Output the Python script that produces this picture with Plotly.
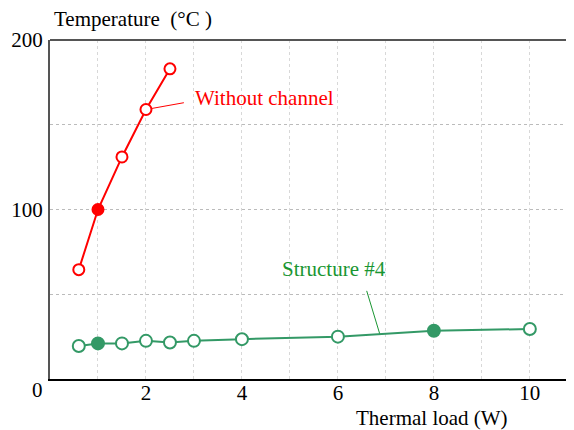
import plotly.graph_objects as go

# Data
red_x = [0.6, 1, 1.5, 2, 2.5]
red_y = [64.5, 100, 131, 159, 183]
red_filled = [False, True, False, False, False]

green_x = [0.6, 1, 1.5, 2, 2.5, 3, 4, 6, 8, 10]
green_y = [19.5, 21, 21, 22.5, 21.5, 22.5, 23.5, 25, 28.5, 29.5]
green_filled = [False, True, False, False, False, False, False, False, True, False]

x_ticks = [2, 4, 6, 8, 10]
y_ticks = [100, 200]

RED = "#ff0000"
GREEN = "#339966"
GREEN_TXT = "#1a9632"
FONT = "Liberation Serif, Times New Roman, serif"

fig = go.Figure()

fig.add_trace(go.Scatter(
    x=red_x, y=red_y, mode="lines+markers",
    line=dict(color=RED, width=2),
    marker=dict(size=11, symbol="circle",
                color=[RED if f else "white" for f in red_filled],
                line=dict(color=RED, width=2)),
    showlegend=False, cliponaxis=False,
))
fig.add_trace(go.Scatter(
    x=green_x, y=green_y, mode="lines+markers",
    line=dict(color=GREEN, width=2),
    marker=dict(size=12, symbol="circle",
                color=[GREEN if f else "white" for f in green_filled],
                line=dict(color=GREEN, width=2)),
    showlegend=False, cliponaxis=False,
))

# leader lines
fig.add_shape(type="line", x0=red_x[3], y0=red_y[3], x1=2.79, y1=163,
              line=dict(color=RED, width=1), layer="below")
fig.add_shape(type="line", x0=6.6, y0=52, x1=6.875, y1=26.3,
              line=dict(color=GREEN_TXT, width=1), layer="below")
# top border
fig.add_shape(type="line", xref="paper", yref="paper", x0=0, x1=1, y0=1, y1=1,
              line=dict(color="#555555", width=2))

fig.add_annotation(x=2.97, y=166, text="Without channel", showarrow=False,
                   xanchor="left", yanchor="middle",
                   font=dict(family=FONT, size=21, color=RED))
fig.add_annotation(x=4.79, y=65, text="Structure #4", showarrow=False,
                   xanchor="left", yanchor="middle",
                   font=dict(family=FONT, size=21, color=GREEN_TXT))

# axis titles and origin label
fig.add_annotation(xref="paper", yref="paper", x=2/524, y=1, yshift=21,
                   text="Temperature  (°C )", showarrow=False, xanchor="left",
                   yanchor="middle", font=dict(family=FONT, size=21, color="black"))
fig.add_annotation(xref="paper", yref="paper", x=(432-50)/524, y=0, yshift=-39,
                   text="Thermal load (W)", showarrow=False, xanchor="center",
                   yanchor="middle", font=dict(family=FONT, size=21, color="black"))
fig.add_annotation(xref="paper", yref="paper", x=0, y=0, xshift=-13, yshift=-11,
                   text="0", showarrow=False, xanchor="center", yanchor="middle",
                   font=dict(family=FONT, size=21, color="black"))

# page body has an 8px margin: size the figure so the visible area matches
fig.update_layout(
    width=566, height=422,
    margin=dict(l=42, r=0, t=32, b=51, autoexpand=False),
    paper_bgcolor="white", plot_bgcolor="white",
    font=dict(family=FONT, size=21, color="black"),
    xaxis=dict(range=[0, 10.92], tickvals=x_ticks, ticktext=[str(v) for v in x_ticks],
               showgrid=True, gridcolor="#d8d8d8", griddash="dot", gridwidth=1,
               minor=dict(dtick=1, tick0=0, showgrid=True, gridcolor="#d8d8d8",
                          griddash="dot", gridwidth=1),
               showline=True, linecolor="black", linewidth=2, zeroline=False,
               ticks="", ticklabelstandoff=-6, fixedrange=True, automargin=False),
    yaxis=dict(range=[0, 200], tickvals=y_ticks, ticktext=[str(v) for v in y_ticks],
               showgrid=True, gridcolor="#bbbbbb", griddash="dot", gridwidth=1,
               minor=dict(dtick=50, tick0=0, showgrid=True, gridcolor="#bbbbbb",
                          griddash="dot", gridwidth=1),
               showline=True, linecolor="#555555", linewidth=2, zeroline=False,
               ticks="", ticklabelstandoff=1, fixedrange=True, automargin=False),
)

fig.write_html("out.html")
